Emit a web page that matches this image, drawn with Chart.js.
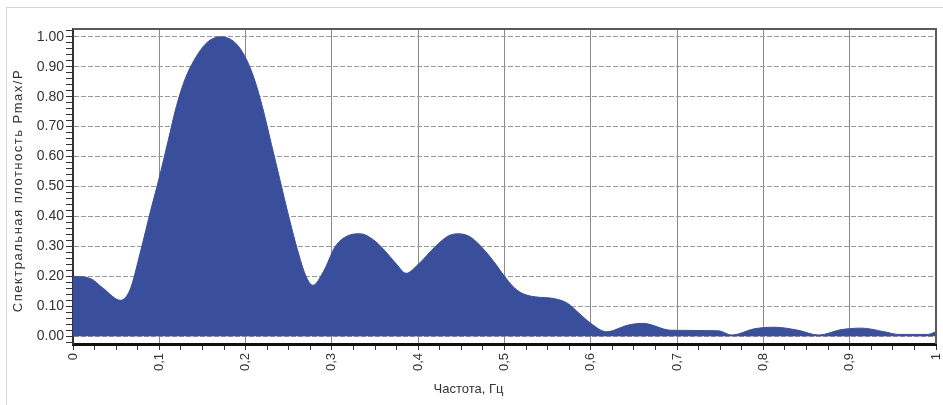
<!DOCTYPE html>
<html>
<head>
<meta charset="utf-8">
<script src="https://cdn.jsdelivr.net/npm/chart.js@4.4.1/dist/chart.umd.min.js"></script>
<style>
  html, body { margin: 0; padding: 0; background: #fff; }
  #wrap { position: relative; width: 943px; height: 405px; }
  #frame {
    position: absolute; left: 6px; top: 7px; right: 0; bottom: 0;
    border-left: 1px solid #d4d4d4; border-top: 1px solid #d4d4d4;
  }
  canvas { position: absolute; left: 0; top: 0; }
</style>
</head>
<body>
<div id="wrap">
  <div id="frame"></div>
  <canvas id="chart" width="943" height="405"></canvas>
</div>
<script>
  // Спектральная плотность, значения
  const freqs = [
    0, 0.02, 0.035, 0.055, 0.066, 0.078, 0.09, 0.1, 0.11, 0.12,
    0.13, 0.14, 0.155, 0.171, 0.188, 0.2, 0.21, 0.22, 0.23, 0.24,
    0.25, 0.26, 0.27, 0.278, 0.29, 0.304, 0.318, 0.333, 0.348, 0.36,
    0.375, 0.386, 0.4, 0.42, 0.435, 0.447, 0.46, 0.476, 0.49, 0.5,
    0.512, 0.523, 0.54, 0.555, 0.573, 0.587, 0.6, 0.618, 0.643, 0.66,
    0.693, 0.748, 0.763, 0.79, 0.813, 0.84, 0.864, 0.89, 0.914, 0.94,
    0.957, 0.99, 1.0
  ];
  const density = [
    0.2, 0.193, 0.16, 0.12, 0.155, 0.28, 0.42, 0.53, 0.65, 0.77,
    0.86, 0.92, 0.98, 1.0, 0.98, 0.93, 0.86, 0.76, 0.64, 0.52,
    0.4, 0.29, 0.2, 0.17, 0.215, 0.3, 0.335, 0.342, 0.322, 0.29,
    0.24, 0.21, 0.24, 0.3, 0.335, 0.342, 0.332, 0.29, 0.24, 0.2,
    0.16, 0.14, 0.13, 0.127, 0.11, 0.075, 0.043, 0.015, 0.037, 0.043,
    0.02, 0.018, 0.004, 0.025, 0.03, 0.02, 0.004, 0.022, 0.027, 0.015,
    0.006, 0.006, 0.015
  ];
  const yTitle = "Спектральная плотность Pmax/P";
  const xTitle = "Частота, Гц";

  const FILL = "#3a4f9b";
  const TEXT = "#333";
  const FONT = "'Liberation Sans', Arial, sans-serif";

  const isMajorY = (v) => Math.round(v * 100) % 10 === 0;
  const isMajorX = (v) => Math.round(v * 1000) % 100 === 0;

  // рамка сверху/справа и подписи осей
  const framePlugin = {
    id: "frame",
    afterDraw(chart) {
      const { ctx, chartArea: a } = chart;
      ctx.save();
      ctx.strokeStyle = "#5a5a5a";
      ctx.lineWidth = 2;
      ctx.beginPath();
      ctx.moveTo(a.left, a.top);
      ctx.lineTo(a.right, a.top);
      ctx.lineTo(a.right, a.bottom);
      ctx.stroke();

      ctx.fillStyle = TEXT;
      ctx.textAlign = "center";
      ctx.textBaseline = "middle";
      ctx.font = "13px " + FONT;
      ctx.fillText(xTitle, chart.width / 2 - 3, 389);

      ctx.translate(18, (a.top + a.bottom) / 2 + 4);
      ctx.rotate(-Math.PI / 2);
      ctx.letterSpacing = "1.5px";
      ctx.fillText(yTitle, 0, 0);
      ctx.restore();
    },
  };

  const points = freqs.map((f, i) => ({ x: f, y: density[i] }));

  new Chart(document.getElementById("chart"), {
    type: "line",
    data: {
      datasets: [
        {
          data: points,
          borderColor: FILL,
          backgroundColor: FILL,
          borderWidth: 1,
          pointRadius: 0,
          fill: "origin",
          cubicInterpolationMode: "monotone",
        },
      ],
    },
    options: {
      responsive: false,
      animation: false,
      layout: { padding: { top: 29, right: 7, bottom: 0, left: 0 } },
      plugins: {
        legend: { display: false },
        tooltip: { enabled: false },
      },
      scales: {
        x: {
          type: "linear",
          min: 0,
          max: 1,
          afterFit: (scale) => {
            scale.height = 61;
            scale.paddingLeft = 0;
            scale.paddingRight = 0;
          },
          ticks: {
            stepSize: 0.025,
            autoSkip: false,
            minRotation: 90,
            maxRotation: 90,
            padding: 3,
            color: TEXT,
            font: { family: FONT, size: 13 },
            callback: (v) => {
              if (!isMajorX(v)) return "";
              if (v === 0) return "0";
              if (Math.abs(v - 1) < 1e-9) return "1";
              return v.toFixed(1).replace(".", ",");
            },
          },
          grid: {
            color: (c) => (c.tick && isMajorX(c.tick.value) ? "#8a8a8a" : "rgba(0,0,0,0)"),
            lineWidth: 1,
            tickColor: "#333",
            tickLength: 6,
          },
          border: { color: "#111", width: 3 },
        },
        y: {
          min: -0.026,
          max: 1.026,
          afterFit: (scale) => {
            scale.width = 73;
            scale.paddingTop = 0;
            scale.paddingBottom = 0;
          },
          ticks: {
            stepSize: 0.02,
            autoSkip: false,
            includeBounds: false,
            padding: 2,
            color: TEXT,
            font: { family: FONT, size: 14 },
            callback: (v) => (isMajorY(v) ? (Math.round(v * 100) / 100).toFixed(2) : ""),
          },
          grid: {
            color: (c) => (c.tick && isMajorY(c.tick.value) ? "#9a9a9a" : "rgba(0,0,0,0)"),
            lineWidth: 1,
            tickColor: "#333",
            tickLength: 7,
          },
          border: { color: "#333", width: 2, dash: [5, 2] },
        },
      },
    },
    plugins: [framePlugin],
  });
</script>
</body>
</html>
